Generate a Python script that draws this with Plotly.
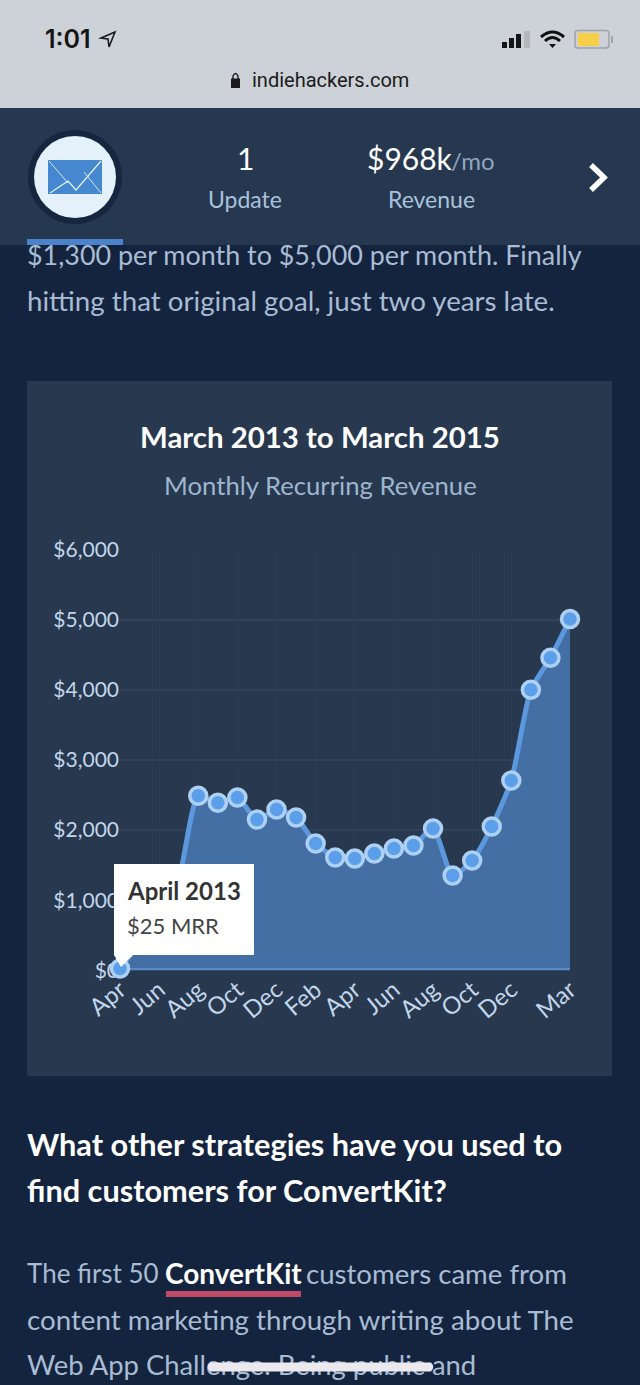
import plotly.graph_objects as go

months = ["Apr 2013","May 2013","Jun 2013","Jul 2013","Aug 2013","Sep 2013","Oct 2013","Nov 2013","Dec 2013",
          "Jan 2014","Feb 2014","Mar 2014","Apr 2014","May 2014","Jun 2014","Jul 2014","Aug 2014","Sep 2014",
          "Oct 2014","Nov 2014","Dec 2014","Jan 2015","Feb 2015","Mar 2015"]
mrr = [25,400,800,1300,2490,2390,2465,2150,2293,2180,1810,1610,1595,1667,1738,1780,2023,1353,1567,2051,2707,4003,4459,5014]
baseline = [0]*len(months)
x_tick_vals = ["Apr 2013","Jun 2013","Aug 2013","Oct 2013","Dec 2013","Feb 2014","Apr 2014","Jun 2014","Aug 2014","Oct 2014","Dec 2014","Mar 2015"]
x_tick_text = ["Apr","Jun","Aug","Oct","Dec","Feb","Apr","Jun","Aug","Oct","Dec","Mar"]
y_tick_vals = [0,1000,2000,3000,4000,5000,6000]
y_tick_text = ["$0","$1,000","$2,000","$3,000","$4,000","$5,000","$6,000"]

W, H = 640, 1385
FONT = "Lato"
BODY = "#a8bcd4"
TICK = "#c2d6ea"
def X(x): return x / W
def Y(y): return 1 - y / H

def rect(x0, y0, x1, y1, color, layer="below"):
    return dict(type="rect", xref="paper", yref="paper", x0=X(x0), x1=X(x1), y0=Y(y0), y1=Y(y1),
                fillcolor=color, line=dict(width=0), layer=layer)
def circle(cx, cy, r, color, layer="above"):
    return dict(type="circle", xref="paper", yref="paper", x0=X(cx-r), x1=X(cx+r), y0=Y(cy-r), y1=Y(cy+r),
                fillcolor=color, line=dict(width=0), layer=layer)
def path(cmds, fill=None, line=None, width=0, layer="above"):
    parts = []
    for c in cmds:
        parts.append(c[0] + " ".join(f"{X(c[i]):.5f},{Y(c[i+1]):.5f}" for i in range(1, len(c), 2)))
    d = dict(type="path", xref="paper", yref="paper", path=" ".join(parts) , layer=layer,
             line=dict(width=width, color=line or "rgba(0,0,0,0)"))
    if fill: d["fillcolor"] = fill
    return d

shapes = [
    rect(0, 0, 640, 108, "#cdd2d8"),
    rect(27, 381, 612, 1076, "#27384f"),
    # header bar sits over the clipped body text
    rect(0, 108, 640, 245, "#26384f", "above"),
    rect(27, 239, 123, 245, "#4a83cc", "above"),
    circle(75, 177, 47, "#17263f"),
    circle(75, 177, 41, "#e4f1fb"),
    path([("M",48,160),("L",102,160),("L",102,194),("L",48,194),("Z",)], fill="#4588cf"),
    path([("M",49,161),("L",68,183)], line="#cfe4f7", width=1),
    path([("M",101,161),("L",76,190),("L",68,181),("L",50,193)], line="#e8f3fc", width=1.2),
    path([("M",84,172),("L",101,193)], line="#cfe4f7", width=1),
    path([("M",591,165),("L",604,177.5),("L",591,190)], line="#ffffff", width=5.5),
    # status bar icons
    path([("M",101,38),("L",115,32),("L",109,47),("L",108,39),("Z",)], line="#1b1b1b", width=1.6),
    rect(502, 42, 507, 48, "#151515", "above"),
    rect(509, 38, 514, 48, "#151515", "above"),
    rect(516, 34, 521, 48, "#151515", "above"),
    rect(524, 31, 530, 48, "#b4b8bd", "above"),
    path([("M",541,37),("Q",552.5,27,564,37)], line="#111111", width=3),
    path([("M",545,41),("Q",552.5,34,560,41)], line="#111111", width=3),
    path([("M",549,44),("L",556,44),("L",552.5,48),("Z",)], fill="#111111"),
    path([("M",578,30.5),("L",606,30.5),("Q",609,30.5,609,33.5),("L",609,45),("Q",609,48,606,48),
          ("L",578,48),("Q",575,48,575,45),("L",575,33.5),("Q",575,30.5,578,30.5),("Z",)], line="#9ea3a8", width=1.5),
    rect(578, 33, 599, 46, "#f6cf47", "above"),
    rect(611, 36, 613, 43, "#9ea3a8", "above"),
    rect(231, 78.5, 240, 88, "#1b1b1b", "above"),
    path([("M",233,79),("L",233,76),("Q",235.5,71,238,76),("L",238,79)], line="#1b1b1b", width=1.4),
    # tooltip
    rect(114, 864, 254, 955, "#ffffff", "above"),
    path([("M",114,954),("L",134,954),("L",121,967),("L",114,955),("Z",)], fill="#ffffff"),
    # link underline and the white scribble
    rect(166, 1291, 301, 1297, "#c04b66", "above"),
    path([("M",210,1362.5),("L",431,1362.5),("Q",435.5,1367,431,1371.5),("L",210,1371.5),("Q",205.5,1367,210,1362.5),("Z",)], fill="#ebe9ee"),
]

def ann(x, y, text, size, color, anchor="center", weight=400, family=FONT):
    return dict(xref="paper", yref="paper", x=X(x), y=Y(y), text=text, showarrow=False, xanchor=anchor, yanchor="middle",
                font=dict(size=size, color=color, family=family, weight=weight))

annotations = [
    ann(43, 39, "1:01", 25, "#151515", "left", 600, "Inter"),
    ann(330, 80, "indiehackers.com", 20, "#1b1b1b", "center", 400, "Roboto"),
    ann(245, 158, "1", 30, "#ffffff"),
    ann(245, 199, "Update", 23, "#a9c2dc"),
    ann(365, 158, "$968k", 30, "#ffffff", "left"),
    ann(449, 161, "/mo", 24, "#8ea6bf", "left"),
    ann(431, 199, "Revenue", 23, "#a9c2dc"),
    ann(320, 436, "March 2013 to March 2015", 29.4, "#ffffff", "center", 700),
    ann(320, 485, "Monthly Recurring Revenue", 25.7, "#9db6d0"),
    ann(125, 890, "April 2013", 24, "#333333", "left", 700),
    ann(125, 926, "$25 MRR", 22, "#444444", "left"),
    ann(25, 1144, "What other strategies have you used to", 30.7, "#ffffff", "left", 700),
    ann(25, 1190, "find customers for ConvertKit?", 30.7, "#ffffff", "left", 700),
    ann(25, 1273, "The first 50", 26, BODY, "left"),
    ann(163, 1273, "ConvertKit", 28, "#ffffff", "left", 700),
    ann(304, 1273, "customers came from", 27.6, BODY, "left"),
    ann(25, 1319, "content marketing through writing about The", 27.7, BODY, "left"),
]

# body lines that the header bar and the scribble cover: real text below the "above" shapes
under_x = [27, 27, 27]
under_y = [258, 304, 1368]
under_size = [26.9, 27.7, 27.4]
under_text = ["$1,300 per month to $5,000 per month. Finally",
              "hitting that original goal, just two years late.",
              "Web App Challenge. Being public and"]

fig = go.Figure()
fig.add_trace(go.Scatter(x=months, y=mrr, mode="lines", fill="tozeroy", fillcolor="#446fa5",
                         line=dict(color="#5c98dd", width=5, shape="spline", smoothing=0.6),
                         hoverinfo="skip", showlegend=False, cliponaxis=False))
fig.add_trace(go.Scatter(x=months, y=baseline, mode="lines", line=dict(color="#5a8bc8", width=4.5),
                         hoverinfo="skip", showlegend=False, cliponaxis=False))
fig.add_trace(go.Scatter(x=months, y=mrr, mode="markers",
                         marker=dict(size=17, color="#5b9ee9", line=dict(color="#aed0f3", width=3.5)),
                         showlegend=False, cliponaxis=False))
fig.add_trace(go.Scatter(x=under_x, y=under_y, text=under_text, mode="text", textposition="middle right",
                         textfont=dict(size=under_size, color=BODY, family=FONT), xaxis="x2", yaxis="y2",
                         hoverinfo="skip", showlegend=False, cliponaxis=False))

fig.update_layout(
    width=W, height=H, margin=dict(l=0, r=0, t=0, b=0), autosize=False,
    paper_bgcolor="#15243e", plot_bgcolor="rgba(0,0,0,0)", showlegend=False,
    font=dict(family=FONT), shapes=shapes, annotations=annotations,
    xaxis=dict(domain=[X(120), X(570)], range=[0, 23], type="category", categoryorder="array", categoryarray=months,
               tickmode="array", tickvals=x_tick_vals, ticktext=x_tick_text, tickangle=-40, showgrid=True, automargin=False,
               gridcolor="#2a3d55", gridwidth=1, zeroline=False, showline=False, ticks="", fixedrange=True,
               tickfont=dict(size=24, color=TICK, family=FONT), anchor="y", layer="below traces"),
    yaxis=dict(domain=[Y(970.3), Y(549.8)], range=[0, 6000], tickmode="array", tickvals=y_tick_vals, ticktext=y_tick_text,
               showgrid=True, gridcolor="#2f435c", gridwidth=2, zeroline=False, showline=False, ticks="", fixedrange=True, automargin=False,
               tickfont=dict(size=21, color=TICK, family=FONT), anchor="x", layer="below traces"),
    xaxis2=dict(domain=[0, 1], range=[0, W], visible=False, anchor="y2", fixedrange=True, automargin=False),
    yaxis2=dict(domain=[0, 1], range=[H, 0], visible=False, anchor="x2", fixedrange=True, automargin=False),
)

fig.write_html("out.html", config=dict(displayModeBar=False),
               post_script="document.body.style.margin='0';document.documentElement.style.overflow='hidden';")
